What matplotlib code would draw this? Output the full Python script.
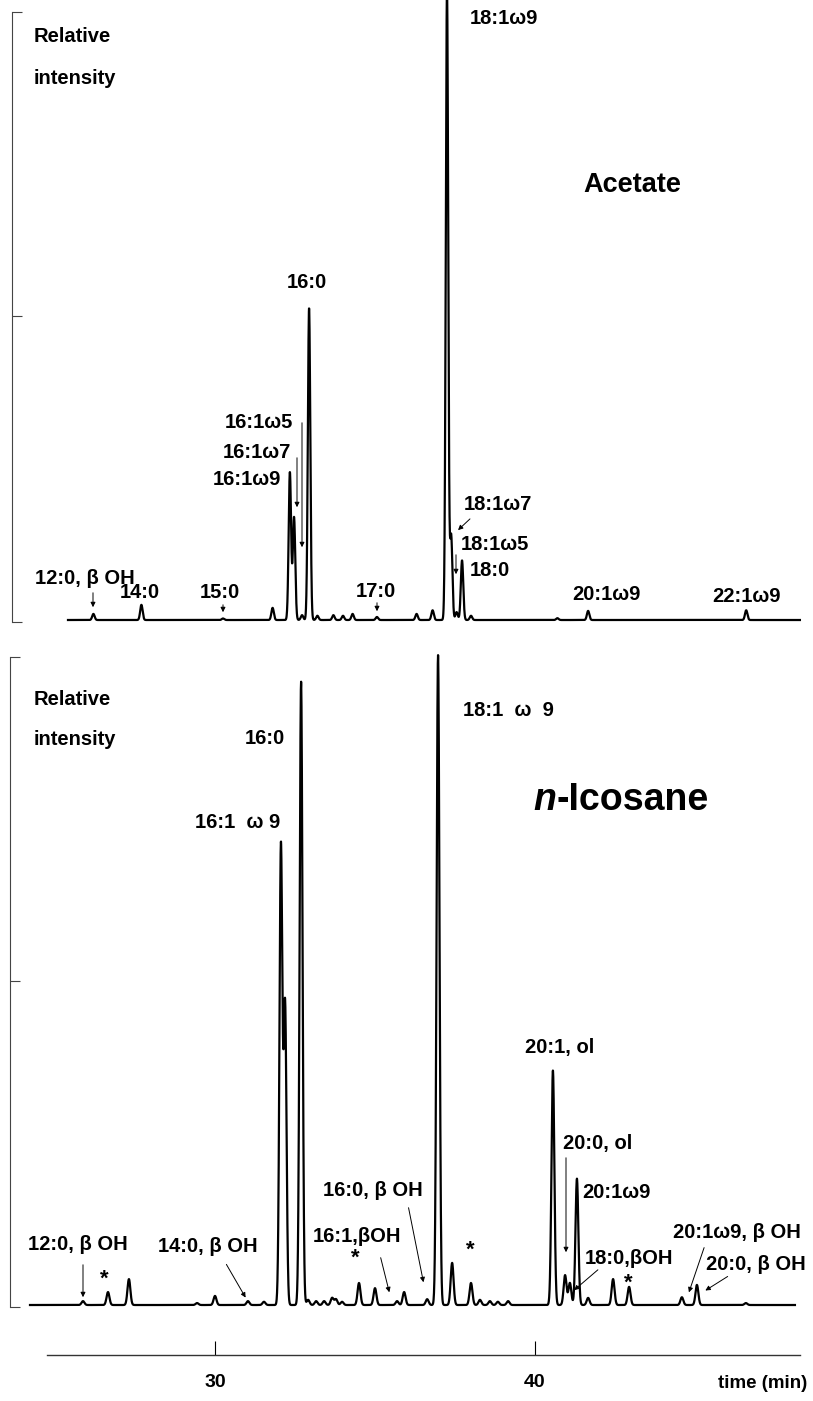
import numpy as np
import matplotlib
matplotlib.use("Agg")
import matplotlib.pyplot as plt

plt.rcParams['font.family'] = ['Liberation Sans', 'DejaVu Sans']
plt.rcParams['font.weight'] = 'bold'

# Acetate run: retention time (min) and peak height (% of axis height)
acetate_times = [26.2, 27.7, 30.25, 31.8, 32.34, 32.47, 32.72, 32.94, 33.2, 33.7, 34.0, 34.3,
                 35.06, 36.3, 36.8, 37.25, 37.38, 37.55, 37.72, 38.0, 40.7, 41.66, 46.6]
acetate_heights = [1.0, 2.5, 0.25, 2.0, 24.3, 16.9, 0.8, 51.3, 0.7, 0.8, 0.7, 1.0,
                   0.5, 1.0, 1.6, 103.6, 13.9, 1.3, 9.8, 0.7, 0.3, 1.5, 1.6]

# n-Icosane run
icosane_times = [25.875, 26.656, 27.31, 29.44, 30.0, 31.03, 31.53, 32.06, 32.19, 32.69,
                 32.91, 33.16, 33.41, 33.66, 33.78, 33.97, 34.5, 35.0, 35.69, 35.91,
                 36.63, 36.97, 37.41, 38.0, 38.28, 38.59, 38.84, 39.16, 40.56, 40.94,
                 41.09, 41.31, 41.66, 42.44, 42.94, 44.59, 45.06, 46.59]
icosane_heights = [0.6, 2.0, 4.0, 0.3, 1.4, 0.6, 0.5, 70.8, 46.2, 96.2,
                   0.8, 0.6, 0.6, 1.1, 0.9, 0.5, 3.4, 2.6, 0.6, 2.0,
                   0.9, 100.3, 6.5, 3.4, 0.8, 0.6, 0.5, 0.6, 36.2, 4.6,
                   3.4, 19.5, 1.1, 4.0, 2.8, 1.2, 3.1, 0.3]

time_ticks = [30, 40]

W, H = 813, 1401
PX_PER_MIN = 32.0
X30 = 215  # pixel column of 30 min
FS = 14.5


def t_at(xpx):
    return 30 + (xpx - X30) / PX_PER_MIN


def fpx(x, y):
    return (x / W, 1 - y / H)


def trace(times, heights, t0, t1, sigma):
    t = np.arange(t0, t1, 0.004)
    y = np.zeros_like(t)
    for rt, h in zip(times, heights):
        y += h * np.exp(-0.5 * ((t - rt) / sigma) ** 2)
    return t, y


fig = plt.figure(figsize=(W / 100, H / 100), dpi=100)


def panel(left, top, bottom, base_px):
    hpx = bottom - top
    ax = fig.add_axes([left / W, 1 - bottom / H, (W - left) / W, hpx / H])
    ax.set_xlim(t_at(left), t_at(W))
    ax.set_ylim(-base_px * 100 / hpx, 100)
    for s in ['top', 'right', 'bottom']:
        ax.spines[s].set_visible(False)
    ax.spines['left'].set_linewidth(0.8)
    ax.spines['left'].set_color('#444444')
    ax.set_xticks([])
    ax.set_yticks([ax.get_ylim()[0], 50, 100])
    ax.set_yticklabels([])
    ax.tick_params(axis='y', direction='in', length=7, width=0.8, color='#444444')
    ax.patch.set_visible(False)
    return ax


ax1 = panel(12, 12, 622, 2)
t, y = trace(acetate_times, acetate_heights, t_at(68), t_at(800), 0.038)
ax1.plot(t, y, color='black', lw=1.6, clip_on=False)

ax2 = panel(10, 657, 1307, 2)
t, y = trace(icosane_times, icosane_heights, t_at(30), t_at(795), 0.045)
ax2.plot(t, y, color='black', lw=1.6, clip_on=False)

# time axis
ax3 = fig.add_axes([0, 1 - 1355 / H, 1, 40 / H])
ax3.set_xlim(t_at(0), t_at(W))
for s in ['top', 'right', 'left']:
    ax3.spines[s].set_visible(False)
ax3.spines['bottom'].set_bounds(t_at(47), t_at(800))
ax3.spines['bottom'].set_linewidth(1.0)
ax3.spines['bottom'].set_color('#333333')
ax3.set_yticks([])
ax3.set_xticks(time_ticks)
ax3.set_xticklabels([str(v) for v in time_ticks], fontsize=14, fontweight='bold')
ax3.tick_params(axis='x', direction='in', length=10, width=0.8, pad=14)
ax3.patch.set_visible(False)


def label(s, x, y, size=FS, ha='left', style='normal'):
    fig.text(*fpx(x, y), s, fontsize=size, ha=ha, va='center', fontweight='bold', style=style)


def arrow(x0, y0, x1, y1):
    fig.add_artist(matplotlib.patches.FancyArrowPatch(
        fpx(x0, y0), fpx(x1, y1), transform=fig.transFigure,
        arrowstyle='-|>', mutation_scale=7, lw=0.7, color='black'))


# top panel labels
label('Relative', 34, 36)
label('intensity', 34, 78)
label('Acetate', 583, 185, size=19.5)
label('18:1ω9', 470, 18)
label('16:0', 307, 283, ha='center')
label('16:1ω5', 225, 422)
label('16:1ω7', 223, 452)
label('16:1ω9', 213, 480)
label('18:1ω7', 464, 505)
label('18:1ω5', 461, 545)
label('18:0', 470, 571)
label('20:1ω9', 572, 595)
label('22:1ω9', 712, 597)
label('12:0, β OH', 35, 579)
label('14:0', 120, 593)
label('15:0', 200, 593)
label('17:0', 356, 591)
arrow(93, 590, 93, 610)
arrow(223, 602, 223, 615)
arrow(302, 420, 302, 550)
arrow(297, 455, 297, 510)
arrow(377, 600, 377, 614)
arrow(472, 517, 456, 532)
arrow(456, 552, 456, 577)

# bottom panel labels
label('Relative', 34, 700)
label('intensity', 34, 740)
label('16:0', 285, 738, ha='right')
label('18:1  ω  9', 463, 710)
label('n', 556, 800, size=27, ha='right', style='italic')
label('-Icosane', 556, 800, size=27)
label('16:1  ω 9', 195, 822)
label('20:1, ol', 525, 1048)
label('20:0, ol', 563, 1143)
label('20:1ω9', 582, 1193)
label('16:0, β OH', 323, 1190)
label('12:0, β OH', 28, 1245)
label('14:0, β OH', 158, 1247)
label('16:1,βOH', 313, 1237)
label('18:0,βOH', 585, 1258)
label('20:1ω9, β OH', 673, 1233)
label('20:0, β OH', 706, 1265)
for sx, sy in [(104, 1279), (355, 1258), (470, 1250), (628, 1283)]:
    label('*', sx, sy, size=16, ha='center')
arrow(83, 1262, 83, 1300)
arrow(225, 1262, 247, 1300)
arrow(380, 1255, 390, 1295)
arrow(408, 1205, 424, 1285)
arrow(566, 1155, 566, 1255)
arrow(600, 1268, 572, 1292)
arrow(705, 1245, 688, 1295)
arrow(730, 1275, 703, 1292)

label('time (min)', 718, 1383, size=13.5)

fig.savefig('out.png', dpi=100)
